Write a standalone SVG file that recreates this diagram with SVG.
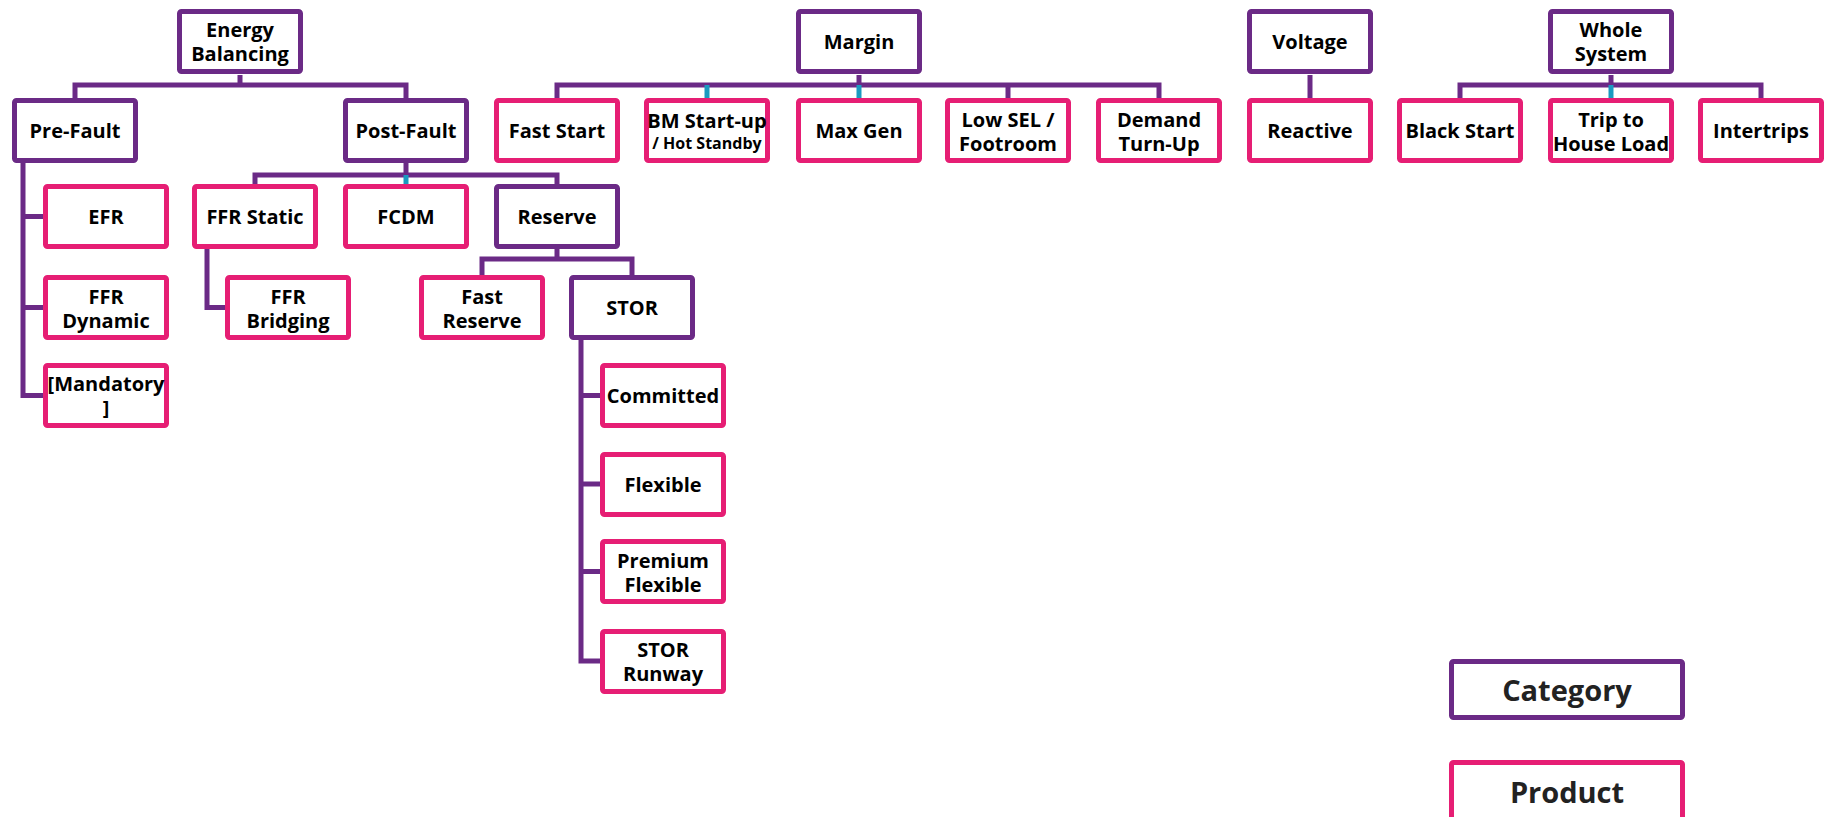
<svg xmlns="http://www.w3.org/2000/svg" width="1826" height="817" viewBox="0 0 1826 817">
<style>
rect.cat{fill:#fff;stroke:#6B2A86;stroke-width:5}
rect.prod{fill:#fff;stroke:#E61E74;stroke-width:5}
.ln{fill:none;stroke:#6B2A86;stroke-width:5}
.tl{fill:none;stroke:#1B9AC0;stroke-width:5}
text{font-family:"Open Sans","Noto Sans",sans-serif;font-weight:bold;font-size:20px;fill:#000;text-anchor:middle;dominant-baseline:central}
text.sm{font-size:16px}
text.lg{font-size:29px;fill:#222}
</style>
<rect width="1826" height="817" fill="#fff"/>
<g id="connectors">
<path class="ln" d="M240 75V85M75 98V85H406V98"/>
<path class="ln" d="M406 163V175M255 184V175H557V184"/>
<path class="tl" d="M406 175V184"/>
<path class="ln" d="M557 249V259M482 275V259H632V275"/>
<path class="ln" d="M207 249V307.5H225"/>
<path class="ln" d="M23 163V395.5H43M23 216.5H43M23 307.5H43"/>
<path class="ln" d="M581 340V661H600M581 395.5H600M581 484H600M581 571.5H600"/>
<path class="ln" d="M859 75V85M557 98V85H1159V98M1008 85V98"/>
<path class="tl" d="M707 85V98M859 85V98"/>
<path class="ln" d="M1310 75V98"/>
<path class="ln" d="M1611 75V85M1460 98V85H1761V98"/>
<path class="tl" d="M1611 85V98"/>
</g>
<g id="energy-balancing"><rect class="cat" x="179.5" y="11.5" width="121" height="60" rx="2"/><text x="240" y="29">Energy</text><text x="240" y="53">Balancing</text></g>
<g id="pre-fault"><rect class="cat" x="14.5" y="100.5" width="121" height="60" rx="2"/><text x="75" y="130.5">Pre-Fault</text></g>
<g id="post-fault"><rect class="cat" x="345.5" y="100.5" width="121" height="60" rx="2"/><text x="406" y="130.5">Post-Fault</text></g>
<g id="efr"><rect class="prod" x="45.5" y="186.5" width="121" height="60" rx="2"/><text x="106" y="216.5">EFR</text></g>
<g id="ffr-dynamic"><rect class="prod" x="45.5" y="277.5" width="121" height="60" rx="2"/><text x="106" y="296">FFR</text><text x="106" y="320">Dynamic</text></g>
<g id="mandatory"><rect class="prod" x="45.5" y="365.5" width="121" height="60" rx="2"/><text x="106" y="383">[Mandatory</text><text x="106" y="407">]</text></g>
<g id="ffr-static"><rect class="prod" x="194.5" y="186.5" width="121" height="60" rx="2"/><text x="255" y="216.5">FFR Static</text></g>
<g id="fcdm"><rect class="prod" x="345.5" y="186.5" width="121" height="60" rx="2"/><text x="406" y="216.5">FCDM</text></g>
<g id="reserve"><rect class="cat" x="496.5" y="186.5" width="121" height="60" rx="2"/><text x="557" y="216.5">Reserve</text></g>
<g id="ffr-bridging"><rect class="prod" x="227.5" y="277.5" width="121" height="60" rx="2"/><text x="288" y="296">FFR</text><text x="288" y="320">Bridging</text></g>
<g id="fast-reserve"><rect class="prod" x="421.5" y="277.5" width="121" height="60" rx="2"/><text x="482" y="296">Fast</text><text x="482" y="320">Reserve</text></g>
<g id="stor"><rect class="cat" x="571.5" y="277.5" width="121" height="60" rx="2"/><text x="632" y="307.5">STOR</text></g>
<g id="committed"><rect class="prod" x="602.5" y="365.5" width="121" height="60" rx="2"/><text x="663" y="395.5">Committed</text></g>
<g id="flexible"><rect class="prod" x="602.5" y="454.5" width="121" height="60" rx="2"/><text x="663" y="484">Flexible</text></g>
<g id="premium-flexible"><rect class="prod" x="602.5" y="541.5" width="121" height="60" rx="2"/><text x="663" y="560">Premium</text><text x="663" y="584">Flexible</text></g>
<g id="stor-runway"><rect class="prod" x="602.5" y="631.5" width="121" height="60" rx="2"/><text x="663" y="649">STOR</text><text x="663" y="673">Runway</text></g>
<g id="margin"><rect class="cat" x="798.5" y="11.5" width="121" height="60" rx="2"/><text x="859" y="41.5">Margin</text></g>
<g id="fast-start"><rect class="prod" x="496.5" y="100.5" width="121" height="60" rx="2"/><text x="557" y="130.5">Fast Start</text></g>
<g id="bm-start-up"><rect class="prod" x="646.5" y="100.5" width="121" height="60" rx="2"/><text x="707" y="120">BM Start-up</text><text class="sm" x="707" y="143">/ Hot Standby</text></g>
<g id="max-gen"><rect class="prod" x="798.5" y="100.5" width="121" height="60" rx="2"/><text x="859" y="130.5">Max Gen</text></g>
<g id="low-sel"><rect class="prod" x="947.5" y="100.5" width="121" height="60" rx="2"/><text x="1008" y="119">Low SEL /</text><text x="1008" y="143">Footroom</text></g>
<g id="demand-turn-up"><rect class="prod" x="1098.5" y="100.5" width="121" height="60" rx="2"/><text x="1159" y="119">Demand</text><text x="1159" y="143">Turn-Up</text></g>
<g id="voltage"><rect class="cat" x="1249.5" y="11.5" width="121" height="60" rx="2"/><text x="1310" y="41.5">Voltage</text></g>
<g id="reactive"><rect class="prod" x="1249.5" y="100.5" width="121" height="60" rx="2"/><text x="1310" y="130.5">Reactive</text></g>
<g id="whole-system"><rect class="cat" x="1550.5" y="11.5" width="121" height="60" rx="2"/><text x="1611" y="29">Whole</text><text x="1611" y="53">System</text></g>
<g id="black-start"><rect class="prod" x="1399.5" y="100.5" width="121" height="60" rx="2"/><text x="1460" y="130.5">Black Start</text></g>
<g id="trip-to-house-load"><rect class="prod" x="1550.5" y="100.5" width="121" height="60" rx="2"/><text x="1611" y="119">Trip to</text><text x="1611" y="143">House Load</text></g>
<g id="intertrips"><rect class="prod" x="1700.5" y="100.5" width="121" height="60" rx="2"/><text x="1761" y="130.5">Intertrips</text></g>
<g id="legend-category"><rect class="cat" x="1451.5" y="661.5" width="231" height="56" rx="2"/><text class="lg" x="1567" y="689">Category</text></g>
<g id="legend-product"><rect class="prod" x="1451.5" y="762.5" width="231" height="60" rx="2"/><text class="lg" x="1567" y="791">Product</text></g>
</svg>
